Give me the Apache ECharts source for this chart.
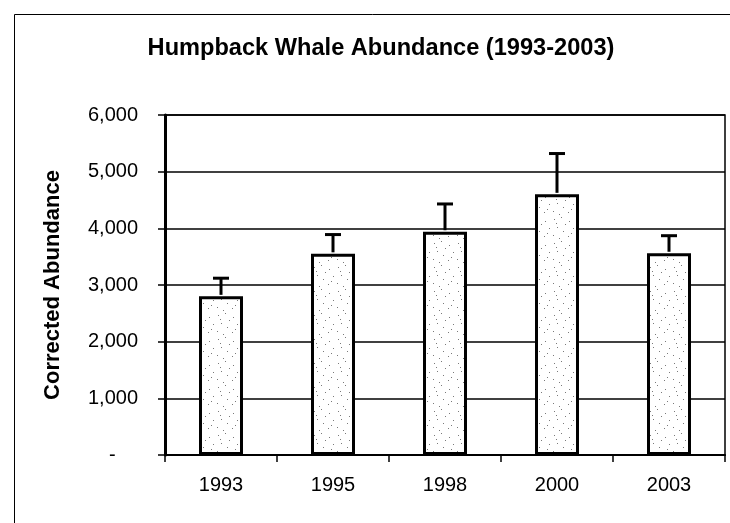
<!DOCTYPE html>
<html>
<head>
<meta charset="utf-8">
<script src="https://cdn.jsdelivr.net/npm/echarts@6/dist/echarts.min.js"></script>
<style>
html,body{margin:0;padding:0;background:#fff;}
#main{width:730px;height:523px;}
</style>
</head>
<body>
<div id="main"></div>
<script>
// ---- data ----
var categories = ['1993', '1995', '1998', '2000', '2003'];
var abundance = [2800, 3550, 3940, 4600, 3560];
var upperError = [3120, 3890, 4430, 5320, 3870];
var yTicks = [0, 1000, 2000, 3000, 4000, 5000, 6000];

// stipple texture for bars (fixed dot layout)
function makeStipple() {
  var c = document.createElement('canvas');
  c.width = 24; c.height = 24;
  var ctx = c.getContext('2d');
  ctx.fillStyle = '#ffffff';
  ctx.fillRect(0, 0, 24, 24);
  ctx.fillStyle = '#7a7a7a';
  var dots = [[2,3],[9,1],[17,5],[13,8],[5,11],[21,12],[11,15],[1,19],[7,22],[16,20],[19,17],[4,7]];
  dots.forEach(function (d) { ctx.fillRect(d[0], d[1], 1, 1); });
  return c;
}

var chart = echarts.init(document.getElementById('main'), null, {renderer: 'canvas'});
var font = '"Liberation Sans", Arial, sans-serif';

var errData = categories.map(function (c, i) { return [i, abundance[i], upperError[i]]; });

chart.setOption({
  backgroundColor: '#ffffff',
  animation: false,
  textStyle: {fontFamily: font, color: '#000'},
  title: {
    text: 'Humpback Whale Abundance (1993-2003)',
    left: 376, top: 31, textAlign: 'center',
    textStyle: {fontFamily: font, fontSize: 23.6, fontWeight: 'bold', color: '#000'}
  },
  graphic: [{
    type: 'rect', left: 12, top: 12, z: -1,
    shape: {width: 740, height: 600},
    style: {fill: 'none', stroke: '#000', lineWidth: 1}
  }],
  grid: {
    left: 165, right: 5, top: 115, bottom: 68,
    show: true, borderColor: '#000', borderWidth: 1.5, backgroundColor: 'transparent'
  },
  xAxis: {
    type: 'category',
    data: categories,
    boundaryGap: true,
    axisLine: {lineStyle: {color: '#000', width: 2}},
    axisTick: {show: true, length: 7, lineStyle: {color: '#000', width: 1.5}},
    axisLabel: {fontFamily: font, fontSize: 20, color: '#000', margin: 20}
  },
  yAxis: {
    type: 'value',
    min: yTicks[0], max: yTicks[yTicks.length - 1], interval: 1000,
    name: 'Corrected Abundance',
    nameLocation: 'middle',
    nameGap: 101,
    nameTextStyle: {fontFamily: font, fontSize: 22, fontWeight: 'bold', color: '#000'},
    axisLine: {show: true, lineStyle: {color: '#000', width: 3}},
    axisTick: {show: true, length: 7, lineStyle: {color: '#000', width: 1.5}},
    splitLine: {show: true, lineStyle: {color: '#000', width: 1.5}},
    axisLabel: {
      fontFamily: font, fontSize: 20, color: '#000', margin: 27,
      formatter: function (v) {
        if (v === 0) return '-    ';
        return v.toString().replace(/\B(?=(\d{3})+(?!\d))/g, ',');
      }
    }
  },
  series: [{
    type: 'bar',
    data: abundance,
    barWidth: 44,
    itemStyle: {
      color: {image: makeStipple(), repeat: 'repeat'},
      borderColor: '#000',
      borderWidth: 3
    },
    z: 3
  }, {
    type: 'custom',
    data: errData,
    encode: {x: 0, y: 2},
    z: 4,
    renderItem: function (params, api) {
      var i = api.value(0);
      var base = api.coord([i, api.value(1)]);
      var top = api.coord([i, api.value(2)]);
      var x = base[0];
      return {
        type: 'group',
        children: [{
          type: 'line',
          shape: {x1: x, y1: base[1] - 1.5, x2: x, y2: top[1]},
          style: {stroke: '#000', lineWidth: 3}
        }, {
          type: 'line',
          shape: {x1: x - 8, y1: top[1], x2: x + 8, y2: top[1]},
          style: {stroke: '#000', lineWidth: 3}
        }]
      };
    }
  }]
});
</script>
</body>
</html>
